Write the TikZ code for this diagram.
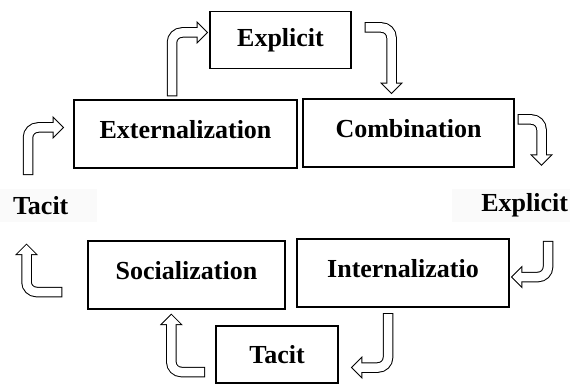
\documentclass[tikz,border=0pt]{standalone}
\usepackage{fontspec}
\setmainfont{Liberation Serif}
\usetikzlibrary{arrows.meta}

\begin{document}
\begin{tikzpicture}
	[%
	x=1pt, y=-1pt,%
	stage/.style ={rectangle,	draw=black,	line width=1.8pt,	inner sep=0pt,	minimum height=68pt,	text depth=10pt,	font=\bfseries\fontsize{26pt}{30pt}\selectfont},%
	level/.style ={rectangle,	draw=black,	line width=1.8pt,	inner sep=0pt,	minimum height=57pt,	font=\bfseries\fontsize{26pt}{30pt}\selectfont},%
	side/.style  ={rectangle,	fill=black!2,	inner ysep=0pt,	minimum height=33pt,	font=\bfseries\fontsize{26pt}{30pt}\selectfont},%
	bent/.style  ={draw=black,	line width=10.5pt,	line cap=rect,	rounded corners=10pt,	-{Triangle[length=11.5pt, width=23pt, line width=0pt]},%
		postaction={draw=white,	line width=8.5pt,	shorten >=1.41pt,	-{Triangle[length=9.1pt, width=18.2pt, line width=0pt]}}},%
	]

	\useasboundingbox (0,0) rectangle (570,385);

	% nodes
	\node (expl)	at (280.5,40)	[level, minimum width=141pt] {Explicit};
	\node (ext)		at (185.5,134)	[stage, minimum width=223pt] {Externalization};
	\node (comb)	at (408.5,133)	[stage, minimum width=211pt] {Combination};
	\node (intern)	at (403,273)	[stage, minimum width=212pt] {Internalizatio};
	\node (soc)		at (186.5,275)	[stage, minimum width=197pt] {Socialization};
	\node (tacb)	at (277,354.5)	[level, minimum width=122pt] {Tacit};

	\node (tacl)	at (48.5,205.5)	[side, text width=71pt, inner xsep=13pt, align=left] {Tacit};
	\node (expr)	at (511,205.5)	[side, text width=114pt, inner xsep=2pt, align=right] {Explicit};

	% conversion arrows
	\draw [bent] ([xshift=-20.5pt, yshift=19pt]tacl.north)	|- ([xshift=-9pt, yshift=6.5pt]ext.west);
	\draw [bent] ([xshift=-13.5pt, yshift=8pt]ext.north)	|- ([xshift=-1pt, yshift=7.5pt]expl.west);
	\draw [bent] ([xshift=18pt, yshift=12.5pt]expl.east)	-| ([xshift=-17pt, yshift=4pt]comb.north);
	\draw [bent] ([xshift=8pt, yshift=13.5pt]comb.east)		-| ([xshift=30.5pt, yshift=23pt]expr.north);
	\draw [bent] ([xshift=37pt, yshift=-24pt]expr.south)	|- ([xshift=1pt, yshift=-4pt]intern.east);
	\draw [bent] ([xshift=-15pt, yshift=-10.5pt]intern.south)	|- ([xshift=12pt, yshift=-13pt]tacb.east);
	\draw [bent] ([xshift=-15.3pt, yshift=-17.5pt]tacb.west)	-| ([xshift=-15.2pt, yshift=-3.7pt]soc.south);
	\draw [bent] ([xshift=-30pt, yshift=-17pt]soc.west)		-| ([xshift=-22pt, yshift=-21.3pt]tacl.south);

\end{tikzpicture}
\end{document}
